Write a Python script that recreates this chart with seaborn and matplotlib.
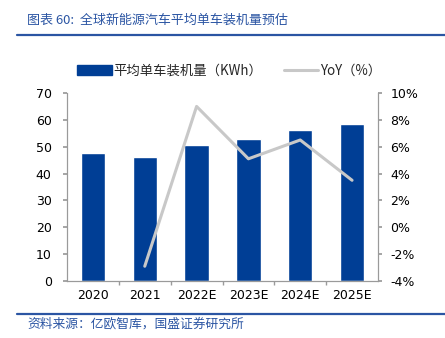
import numpy as np
import pandas as pd
import matplotlib
matplotlib.use("Agg")
import matplotlib.pyplot as plt
import seaborn as sns
from matplotlib.lines import Line2D
from matplotlib.patches import Patch

# Average installed battery capacity per new-energy vehicle (kWh) and YoY growth
years = ["2020", "2021", "2022E", "2023E", "2024E", "2025E"]
capacity_kwh = [47.7, 46.2, 50.5, 53.0, 56.4, 58.3]
yoy_pct = [np.nan, -2.9, 9.0, 5.1, 6.5, 3.5]

bar_label = "平均单车装机量（KWh）"
line_label = "YoY（%）"
title_text = "图表 60:  全球新能源汽车平均单车装机量预估"
source_text = "资料来源：亿欧智库，国盛证券研究所"

sns.set_theme(style="white")
plt.rcParams["font.family"] = ["DejaVu Sans", "Noto Sans CJK SC"]

BAR_BLUE = "#003E95"
LINE_GREY = "#C8C8C8"
TEXT_BLUE = "#2B55A3"
AXIS_GREY = "#9A9A9A"

df = pd.DataFrame({"year": years, "capacity": capacity_kwh, "yoy": yoy_pct})
df["pos"] = np.arange(len(df))

fig = plt.figure(figsize=(4.45, 3.38), dpi=100)
ax = fig.add_axes([0.1506, 0.1686, 0.6988, 0.5563])

sns.barplot(data=df, x="year", y="capacity", color=BAR_BLUE, saturation=1,
            width=0.47, ax=ax)
ax.set_ylim(0, 70)
ax.set_yticks(np.arange(0, 71, 10))
ax.set_xlim(-0.5, len(years) - 0.5)
ax.set_xlabel("")
ax.set_ylabel("")

ax2 = ax.twinx()
line_df = df.dropna(subset=["yoy"])
sns.lineplot(data=line_df, x="pos", y="yoy", color=LINE_GREY, linewidth=2.2,
             ax=ax2, legend=False)
ax2.set_ylim(-4, 10)
ax2.set_yticks(np.arange(-4, 11, 2))
ax2.set_yticklabels([f"{v}%" for v in range(-4, 11, 2)])
ax2.set_xlim(-0.5, len(years) - 0.5)
ax2.set_xlabel("")
ax2.set_ylabel("")

for a in (ax, ax2):
    for s in a.spines.values():
        s.set_color(AXIS_GREY)
        s.set_linewidth(0.8)
    a.spines["top"].set_visible(False)

ax.tick_params(axis="y", which="major", length=3, color=AXIS_GREY,
               labelsize=9, pad=8, left=True)
ax2.tick_params(axis="y", which="major", length=3, color=AXIS_GREY,
                labelsize=9, pad=6, right=True)
ax.tick_params(axis="x", which="major", length=0, labelsize=9, pad=6)
ax.set_xticks(np.arange(0.5, len(years) - 1, 1.0), minor=True)
ax.tick_params(axis="x", which="minor", length=3, color=AXIS_GREY, bottom=True)
for lab in ax.get_xticklabels() + ax.get_yticklabels() + ax2.get_yticklabels():
    lab.set_color("#000000")

handles = [Patch(facecolor=BAR_BLUE, edgecolor=BAR_BLUE, label=bar_label),
           Line2D([0], [0], color=LINE_GREY, linewidth=2.2, label=line_label)]
fig.legend(handles=handles, loc="center", bbox_to_anchor=(0.515, 0.79), ncol=2,
           frameon=False, handlelength=2.6, handleheight=0.75,
           handletextpad=0.15, columnspacing=1.6,
           prop={"family": ["Noto Sans CJK SC", "DejaVu Sans"], "size": 9.6})

# Header and footer rules with captions
fig.add_artist(Line2D([17 / 445, 1.0], [1 - 35 / 338] * 2, color=TEXT_BLUE,
                      linewidth=1.6, transform=fig.transFigure))
fig.add_artist(Line2D([17 / 445, 1.0], [1 - 314 / 338] * 2, color=TEXT_BLUE,
                      linewidth=1.6, transform=fig.transFigure))
fig.text(27 / 445, 1 - 20 / 338, title_text, color=TEXT_BLUE, fontsize=9.4,
         style="italic", va="center", ha="left",
         family=["Noto Sans CJK SC", "DejaVu Sans"])
fig.text(27 / 445, 1 - 324 / 338, source_text, color=TEXT_BLUE, fontsize=9.2,
         style="italic", va="center", ha="left",
         family=["Noto Sans CJK SC", "DejaVu Sans"])

fig.savefig("out.png", dpi=100)
